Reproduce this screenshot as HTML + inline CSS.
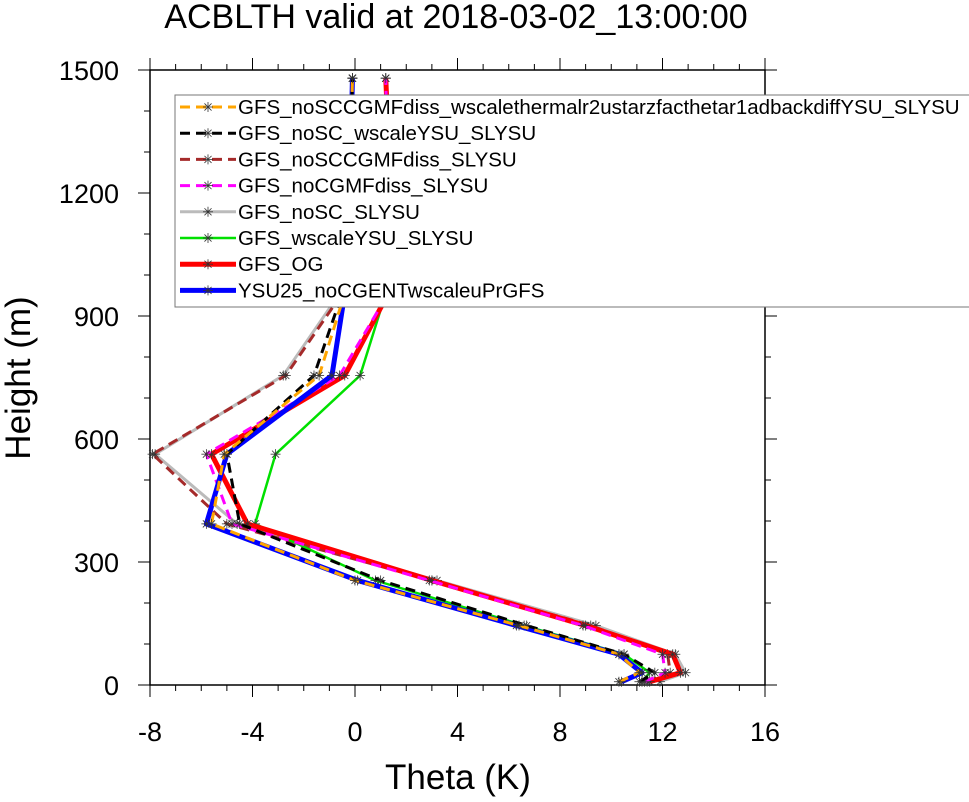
<!DOCTYPE html>
<html><head><meta charset="utf-8"><style>
body{margin:0;background:#fff;font-family:"Liberation Sans",sans-serif}
</style></head><body>
<svg id="chart" width="969" height="797" xmlns="http://www.w3.org/2000/svg" font-family="Liberation Sans, sans-serif">
<text x="456" y="28" font-size="34" text-anchor="middle">ACBLTH valid at 2018-03-02_13:00:00</text>
<g id="axes"></g>
<g id="series"></g>
<g id="legend"></g>
<text x="458" y="789" font-size="35" text-anchor="middle">Theta (K)</text>
<text transform="translate(30,378) rotate(-90)" font-size="35" text-anchor="middle">Height (m)</text>
</svg>
<script>
const heights=[8,30,75,145,255,393,563,755,955,1200,1480];
const seriesNames=["GFS_noSCCGMFdiss_wscalethermalr2ustarzfacthetar1adbackdiffYSU_SLYSU","GFS_noSC_wscaleYSU_SLYSU","GFS_noSCCGMFdiss_SLYSU","GFS_noCGMFdiss_SLYSU","GFS_noSC_SLYSU","GFS_wscaleYSU_SLYSU","GFS_OG","YSU25_noCGENTwscaleuPrGFS"];
const sOrange=[10.3,11.1,10.3,6.4,0.0,-5.6,-5.1,-1.4,-0.4,-0.2,-0.1];
const sBlack=[11.1,11.7,10.5,6.7,1.0,-4.5,-5.0,-1.6,-0.5,-0.2,-0.1];
const sBrown=[11.4,12.3,12.2,9.2,3.0,-5.0,-7.9,-2.7,-0.5,-0.2,-0.1];
const sMagenta=[11.3,12.1,12.0,8.9,2.9,-4.8,-5.8,-0.6,1.3,1.3,1.2];
const sGray=[11.9,12.9,12.5,9.4,3.2,-4.6,-7.8,-2.8,-0.6,-0.2,-0.1];
const sGreen=[11.2,11.5,10.5,6.6,0.8,-3.9,-3.1,0.2,1.2,1.3,1.2];
const sRed=[11.5,12.7,12.4,9.0,3.0,-4.2,-5.6,-0.4,1.3,1.4,1.2];
const sBlue=[10.4,11.2,10.3,6.3,0.1,-5.8,-5.0,-0.9,-0.4,-0.2,-0.1];
const xTicks=[-8,-4,0,4,8,12,16];
const yTicks=[0,300,600,900,1200,1500];
const NS="http://www.w3.org/2000/svg";
const L=150,R=765,T=70,B=685;
const xs=v=>L+(v+8)/24*(R-L);
const ys=v=>B-v/1500*(B-T);
function mk(tag,attrs,parent){const e=document.createElementNS(NS,tag);for(const k in attrs)e.setAttribute(k,attrs[k]);parent.appendChild(e);return e;}
const ax=document.getElementById('axes');
const frame=mk('rect',{x:L,y:T,width:R-L,height:B-T,fill:'none',stroke:'#000','stroke-width':1.5},ax);


for(let v=-8;v<=16;v++){const maj=v%4===0;const len=maj?12:6;const x=xs(v);
 mk('line',{x1:x,y1:B,x2:x,y2:B+len,stroke:'#000','stroke-width':1},ax);
 mk('line',{x1:x,y1:T,x2:x,y2:T-len,stroke:'#000','stroke-width':1},ax);}
for(let v=0;v<=1500;v+=100){const maj=v%300===0;const len=maj?12:6;const y=ys(v);
 mk('line',{x1:L,y1:y,x2:L-len,y2:y,stroke:'#000','stroke-width':1},ax);
 mk('line',{x1:R,y1:y,x2:R+len,y2:y,stroke:'#000','stroke-width':1},ax);}
xTicks.forEach(v=>{const t=mk('text',{x:xs(v),y:B+56,'font-size':27,'text-anchor':'middle'},ax);t.textContent=v;
 
 });
yTicks.forEach(v=>{const t=mk('text',{x:L-31,y:ys(v)+10,'font-size':27,'text-anchor':'end'},ax);t.textContent=v;
 
 });
const styles=[
 {d:sOrange,c:'orange',w:3,dash:'10,6'},
 {d:sBlack,c:'black',w:3,dash:'10,6'},
 {d:sBrown,c:'brown',w:3,dash:'10,6'},
 {d:sMagenta,c:'magenta',w:3,dash:'10,6'},
 {d:sGray,c:'#bbbbbb',w:3,dash:''},
 {d:sGreen,c:'#00e000',w:2.5,dash:''},
 {d:sRed,c:'red',w:5,dash:''},
 {d:sBlue,c:'blue',w:5,dash:''}];
const sg=document.getElementById('series');
const drawOrder=[4,2,5,6,3,7,1,0];
function star(x,y,g){for(let a=0;a<4;a++){const an=a*Math.PI/4;mk('line',{x1:x-5*Math.cos(an),y1:y-5*Math.sin(an),x2:x+5*Math.cos(an),y2:y+5*Math.sin(an),stroke:'#333','stroke-width':0.8},g);}}
drawOrder.forEach(i=>{const s=styles[i];
 const g=mk('g',{},sg);
 
 
 const pts=s.d.map((v,j)=>xs(v)+','+ys(heights[j])).join(' ');
 mk('polyline',{points:pts,fill:'none',stroke:s.c,'stroke-width':s.w,'stroke-dasharray':s.dash,'stroke-linejoin':'round'},g);
 s.d.forEach((v,j)=>star(xs(v),ys(heights[j]),g));});
const lg=document.getElementById('legend');
const box=mk('rect',{x:175,y:95,width:800,height:212,fill:'#fff',stroke:'#777','stroke-width':1},lg);


seriesNames.forEach((n,i)=>{const s=styles[i];const y=107+i*26.2;
 const g=mk('g',{},lg);
 
 
 mk('line',{x1:180,y1:y,x2:236,y2:y,stroke:s.c,'stroke-width':s.w,'stroke-dasharray':s.dash},g);
 star(208,y,g);
 const t=mk('text',{x:238,y:y+7,'font-size':20.5},g);t.textContent=n;});
</script>
</body></html>
